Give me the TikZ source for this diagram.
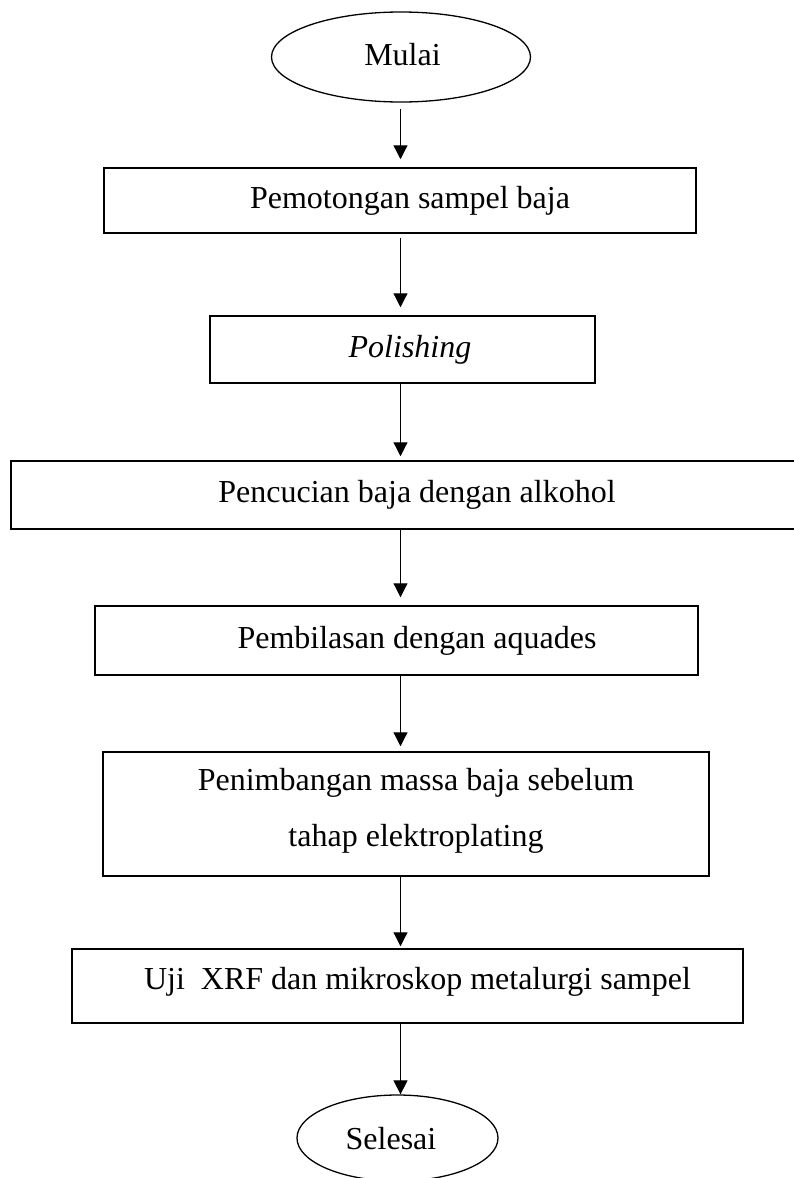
\documentclass[tikz,border=0pt]{standalone}
\usepackage{fontspec}
\setmainfont{Liberation Serif}
\usetikzlibrary{arrows.meta,shapes.geometric}
\tikzset{
  boxnode/.style={draw, line width=1.5pt, rectangle, inner sep=0pt},
  ovalnode/.style={draw, line width=1.3pt, ellipse, inner sep=0pt},
  lbl/.style={font=\fontsize{32}{38}\selectfont, inner sep=0pt},
  arr/.style={line width=1.2pt, -{Triangle[length=14pt,width=14pt]}},
}
\begin{document}
\begin{tikzpicture}[x=1pt,y=-1pt]
\useasboundingbox (0,0) rectangle (793,1178);
\coordinate (ax) at (400.5,0);
% shapes
\node[ovalnode, minimum width=259pt, minimum height=90pt] (mulai) at (401,57) {};
\node[boxnode, minimum width=592pt, minimum height=65pt] (b1) at (400,200.5) {};
\node[boxnode, minimum width=385pt, minimum height=67pt] (b2) at (402.5,349.5) {};
\node[boxnode, minimum width=786pt, minimum height=68pt] (b3) at (404,495) {};
\node[boxnode, minimum width=603pt, minimum height=69pt] (b4) at (396.5,640.5) {};
\node[boxnode, minimum width=606pt, minimum height=124pt] (b5) at (406,814) {};
\node[boxnode, minimum width=671pt, minimum height=74pt] (b6) at (407.5,986) {};
\node[ovalnode, minimum width=201pt, minimum height=86pt] (selesai) at (397.5,1138) {};
% texts
\node[lbl] (t0) at (402.5,55) {Mulai};
\node[lbl] (t1) at (410,201) {Pemotongan sampel baja};
\node[lbl] (t2) at (410,350) {\itshape Polishing};
\node[lbl] (t3) at (417,495) {Pencucian baja dengan alkohol};
\node[lbl] (t4) at (417,641) {Pembilasan dengan aquades};
\node[lbl] (t5a) at (416,783) {Penimbangan massa baja sebelum};
\node[lbl] (t5b) at (416,839) {tahap elektroplating};
\node[lbl] (t6) at (417.5,982) {Uji\ \ XRF dan mikroskop metalurgi sampel};
\node[lbl] (t7) at (391,1139) {Selesai};
% connectors
\draw[arr, shorten <=6pt, shorten >=8pt] (mulai.south -| ax) -- (b1.north -| ax);
\draw[arr, shorten <=4pt, shorten >=8pt] (b1.south -| ax) -- (b2.north -| ax);
\draw[arr, shorten >=4pt] (b2.south -| ax) -- (b3.north -| ax);
\draw[arr, shorten >=8pt] (b3.south -| ax) -- (b4.north -| ax);
\draw[arr, shorten >=5pt] (b4.south -| ax) -- (b5.north -| ax);
\draw[arr, shorten >=2pt] (b5.south -| ax) -- (b6.north -| ax);
\draw[arr] (b6.south -| ax) -- (selesai.north -| ax);
\end{tikzpicture}
\end{document}
